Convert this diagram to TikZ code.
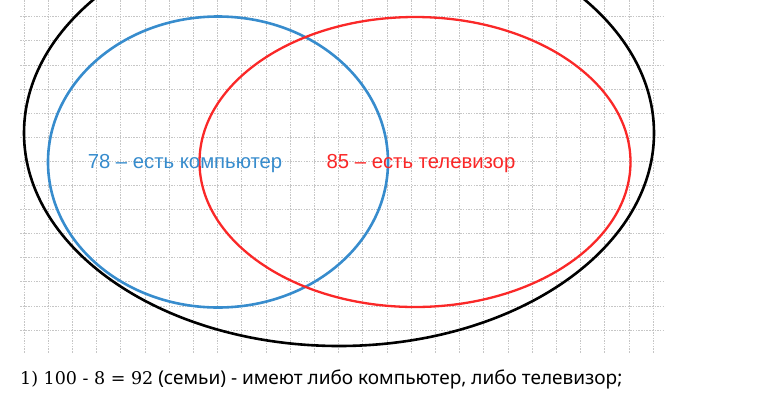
\documentclass[tikz,border=0pt]{standalone}
\usepackage{fontspec}
\setmainfont{Noto Sans}
\newfontfamily\labelfont{Liberation Sans}
\newfontfamily\numfont{DejaVu Serif}
\usetikzlibrary{calc}

\definecolor{setblue}{RGB}{55,140,205}
\definecolor{setred}{RGB}{250,40,40}

\begin{document}
\begin{tikzpicture}[
    x=1pt, y=-1pt,
    gridline/.style={gray!45, dash pattern=on 1.5pt off 1.2pt, line width=0.8pt},
    setline/.style={line width=2.6pt},
    setlabel/.style={font=\labelfont\fontsize{20.3}{23}\selectfont, inner sep=0pt, anchor=base},
    answer/.style={font=\fontsize{19}{22}\selectfont, anchor=base west, inner sep=0pt}
]
\useasboundingbox (0,0) rectangle (779,400);

% squared paper
\foreach \i in {0,...,26}
    \draw[gridline] ({24+24.2*\i},0) -- ({24+24.2*\i},353);
\foreach \j in {0,...,13}
    \draw[gridline] (20,{16.7+24.1*\j}) -- (665,{16.7+24.1*\j});

% all families, computer, TV
\draw[setline, black] (339,133) ellipse [x radius=315, y radius=213];
\draw[setline, setblue] (218,162) ellipse [x radius=170, y radius=145.5];
\draw[setline, setred, line width=2.3pt] (415,162) ellipse [x radius=215.5, y radius=145];

\node[setlabel, text=setblue] (comp) at (185,168) {78 – есть компьютер};
\node[setlabel, text=setred] (tv) at (421,168) {85 – есть телевизор};

\node[answer] (step1) at (20,384)
    {{\numfont\fontsize{17.5}{22}\selectfont 1) 100 - 8 = 92} (семьи) - имеют либо компьютер, либо телевизор;};

\end{tikzpicture}
\end{document}
